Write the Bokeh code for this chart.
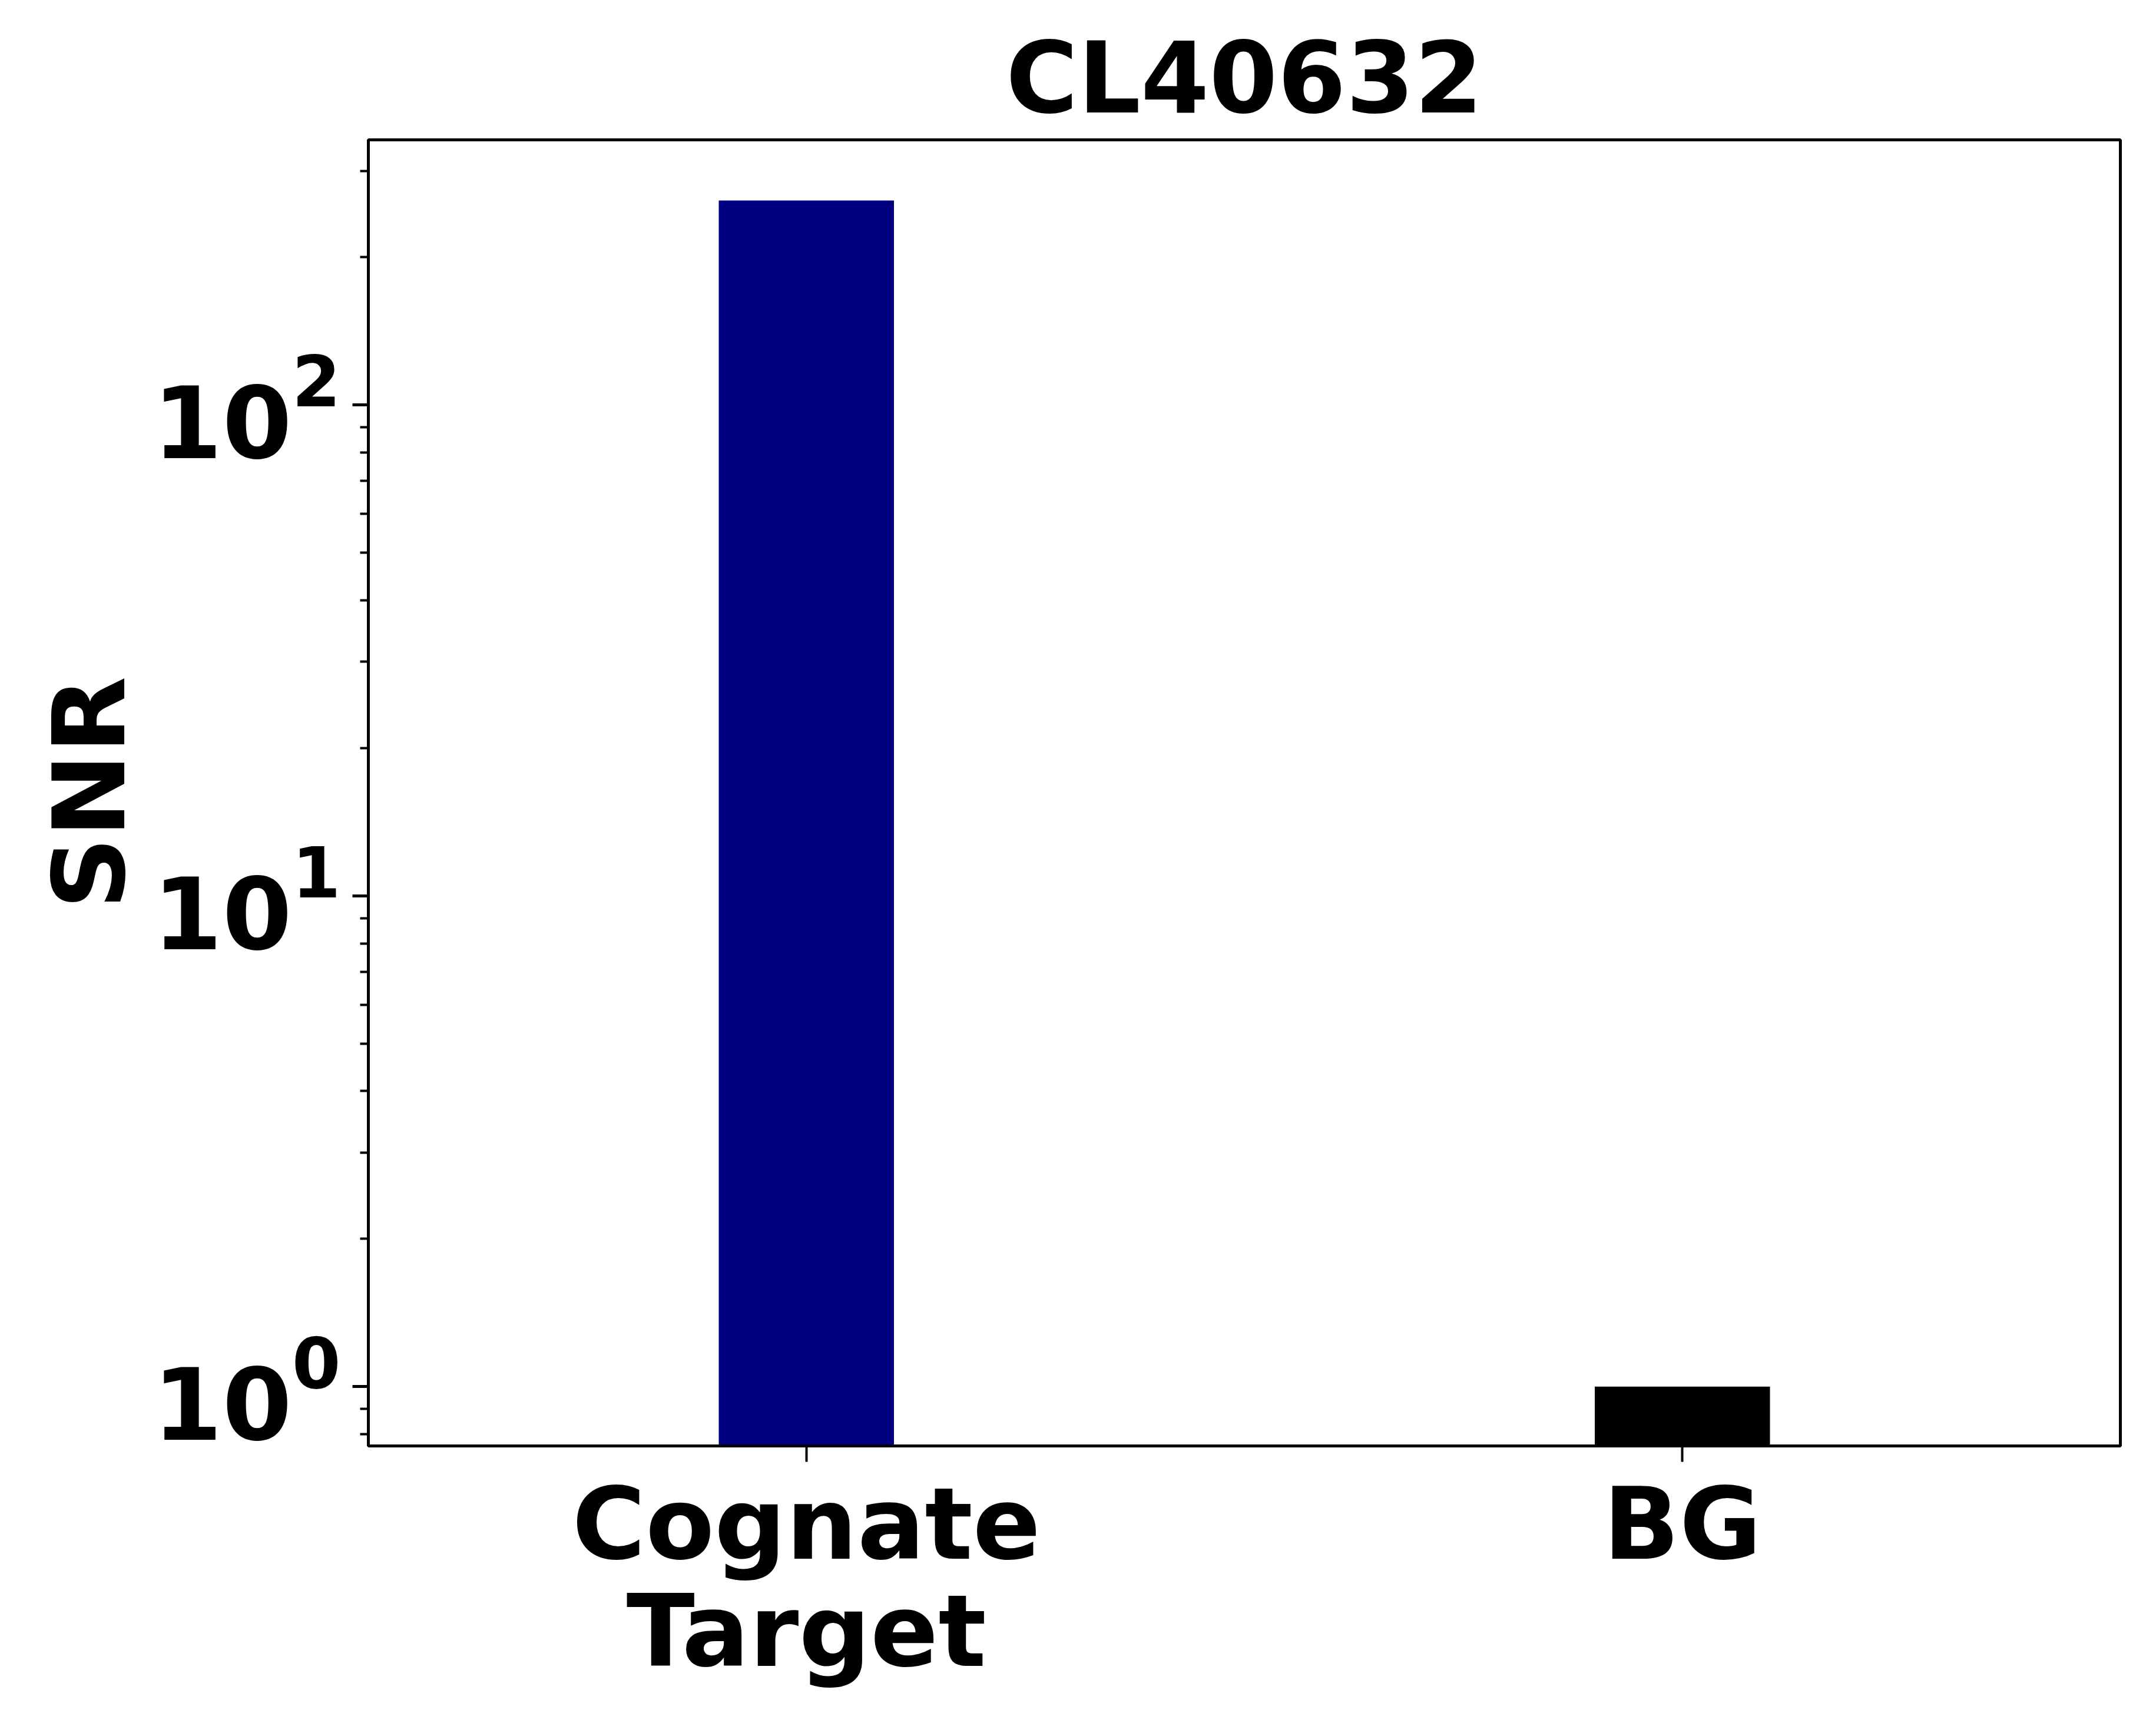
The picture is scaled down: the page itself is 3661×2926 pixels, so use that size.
from bokeh.plotting import figure
from bokeh.models import Range1d, FactorRange, FixedTicker, ColumnDataSource
from bokeh.embed import file_html
from bokeh.resources import INLINE

title_text = "CL40632"
categories = ["Cognate\nTarget", "BG"]
snr_values = [261.0, 1.0]
bar_colors = ["#000080", "#000000"]
y_label = "SNR"
major_ticks = [1, 10, 100]
minor_ticks = [0.8, 0.9, 2, 3, 4, 5, 6, 7, 8, 9, 20, 30, 40, 50, 60, 70, 80, 90, 200, 300]

FONT = "DejaVu Sans"
FS = "170px"

p = figure(
    x_range=FactorRange(*categories),
    y_range=Range1d(0.757, 347),
    y_axis_type="log",
    output_backend="svg",
    toolbar_location=None,
    frame_width=2975,
    frame_height=2218,
    min_border_left=625,
    min_border_right=40,
    min_border_top=237,
    min_border_bottom=415,
    title=title_text,
)

src = ColumnDataSource(dict(cat=categories, top=snr_values, bottom=[0.01, 0.01], color=bar_colors))
p.vbar(x="cat", top="top", bottom="bottom", width=0.2, color="color", source=src, line_color=None)

p.grid.visible = False
p.outline_line_color = "black"
p.outline_line_width = 5
p.background_fill_color = "white"
p.border_fill_color = "white"

p.title.text_font = FONT
p.title.text_font_size = "167px"
p.title.text_font_style = "bold"
p.title.text_color = "black"
p.title.align = "center"
p.title.offset = 0
p.title.standoff = 16

for ax in (p.xaxis[0], p.yaxis[0]):
    ax.axis_line_color = "black"
    ax.axis_line_width = 5
    ax.major_tick_line_width = 5
    ax.minor_tick_line_width = 4
    ax.major_tick_out = 27
    ax.major_tick_in = 0
    ax.minor_tick_out = 14
    ax.minor_tick_in = 0
    ax.major_label_text_font = FONT
    ax.major_label_text_font_size = FS
    ax.major_label_text_font_style = "bold"
    ax.major_label_text_color = "black"
    ax.axis_label_text_font = FONT
    ax.axis_label_text_font_size = FS
    ax.axis_label_text_font_style = "bold"
    ax.axis_label_text_color = "black"

p.xaxis.major_label_standoff = 6
p.xaxis.major_tick_line_width = 4
p.xaxis.major_label_text_line_height = 0.92

p.yaxis.ticker = FixedTicker(ticks=major_ticks, minor_ticks=minor_ticks)
p.yaxis.axis_label = y_label
p.yaxis.major_label_standoff = 20
p.yaxis.axis_label_standoff = 5

open("out.html", "w").write(file_html(p, INLINE))
